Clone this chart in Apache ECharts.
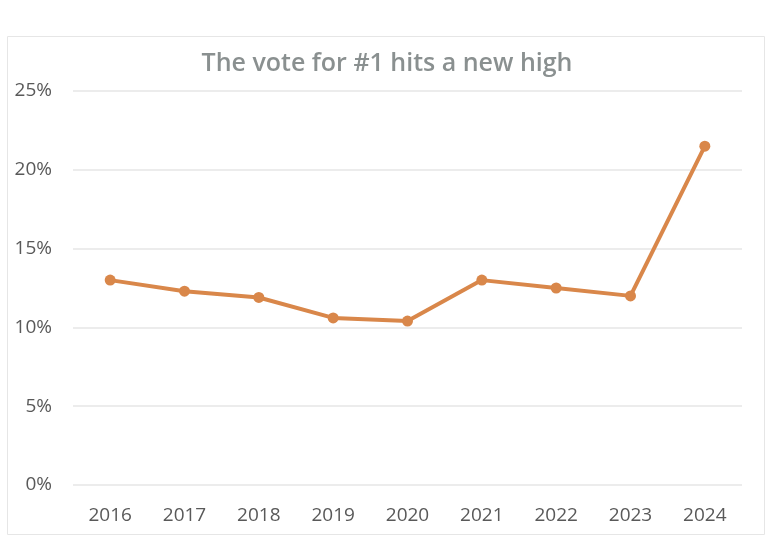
<!DOCTYPE html>
<html><head><meta charset="utf-8">
<script src="https://cdn.jsdelivr.net/npm/echarts@6/dist/echarts.min.js"></script>
<style>html,body{margin:0;padding:0;background:#fff}#c{width:774px;height:557px}</style>
</head><body><div id="c"></div>
<script>
const years = ['2016','2017','2018','2019','2020','2021','2022','2023','2024'];
const votes = [13.0, 12.3, 11.9, 10.6, 10.4, 13.0, 12.5, 12.0, 21.5];
const yTicks = [0, 5, 10, 15, 20, 25];
const titleText = 'The vote for #1 hits a new high';

const chart = echarts.init(document.getElementById('c'), null, {renderer:'canvas'});
chart.setOption({
  animation: false,
  backgroundColor: '#fff',
  graphic: [{
    type: 'rect', left: 5, top: 34, shape: {width: 757, height: 498},
    style: {fill: 'none', stroke: '#e6e6e6', lineWidth: 1}
  }],
  title: {
    text: titleText, left: 'center', top: 46,
    textStyle: {fontFamily: 'Open Sans', fontWeight: 600, fontSize: 25, color: '#8a9090'}
  },
  grid: {left: 73, right: 32, top: 91, bottom: 72, containLabel: false},
  xAxis: {
    type: 'category', data: years, boundaryGap: true,
    axisLine: {show: false}, axisTick: {show: false},
    axisLabel: {fontFamily: 'Open Sans', fontSize: 19, color: '#595959', margin: 21}
  },
  yAxis: {
    type: 'value', min: yTicks[0], max: yTicks[yTicks.length-1], interval: 5,
    axisLine: {show: false}, axisTick: {show: false},
    axisLabel: {fontFamily: 'Open Sans', fontSize: 19, color: '#595959', margin: 21,
      formatter: v => v + '%'},
    splitLine: {lineStyle: {color: '#ececec', width: 2}}
  },
  series: [{
    type: 'line', data: votes,
    lineStyle: {color: '#d9874a', width: 4},
    itemStyle: {color: '#d9874a'},
    symbol: 'circle', symbolSize: 11
  }]
});
</script></body></html>
